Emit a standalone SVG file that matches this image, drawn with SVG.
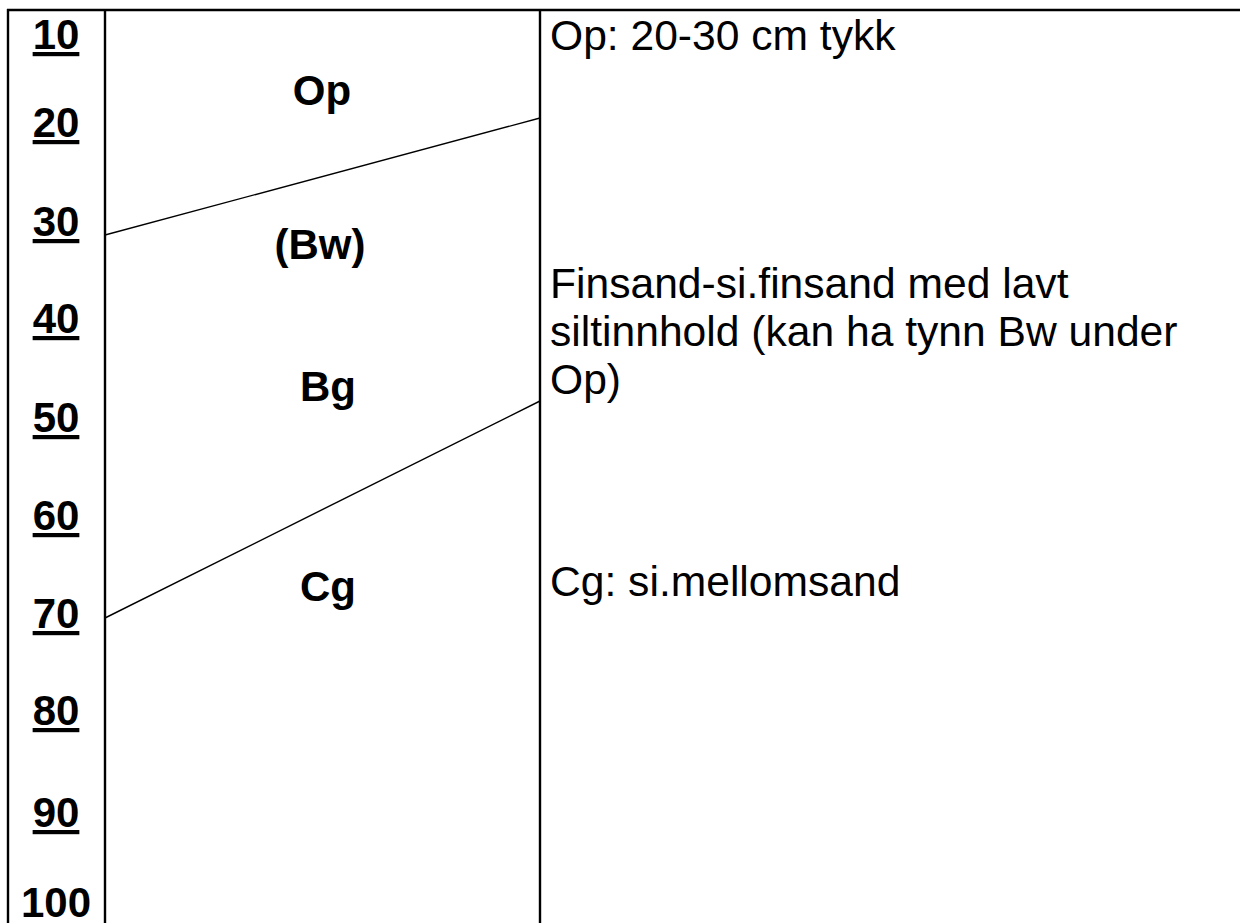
<svg xmlns="http://www.w3.org/2000/svg" width="1240" height="923" viewBox="0 0 1240 923">
<style>
.frame{stroke:#000;stroke-width:2.4;fill:none}
.hz{stroke:#000;stroke-width:1.4;fill:none}
.depth{font-family:"Liberation Sans",Arial,sans-serif;font-size:42px;font-weight:bold;text-anchor:middle;text-decoration:underline;fill:#000}
.hor{font-family:"Liberation Sans",Arial,sans-serif;font-size:42px;font-weight:bold;text-anchor:middle;fill:#000}
.desc{font-family:"Liberation Sans",Arial,sans-serif;font-size:42.6px;fill:#000}
</style>
<rect width="1240" height="923" fill="#fff"/>
<g id="frame">
<line class="frame" x1="7" y1="10" x2="1240" y2="10"/>
<line class="frame" x1="8" y1="9" x2="8" y2="923"/>
<line class="frame" x1="105" y1="9" x2="105" y2="923"/>
<line class="frame" x1="540" y1="9" x2="540" y2="923"/>
</g>
<g id="depth-scale">
<text class="depth" x="56" y="49">10</text>
<text class="depth" x="56" y="137">20</text>
<text class="depth" x="56" y="236">30</text>
<text class="depth" x="56" y="333">40</text>
<text class="depth" x="56" y="432">50</text>
<text class="depth" x="56" y="530">60</text>
<text class="depth" x="56" y="628">70</text>
<text class="depth" x="56" y="725">80</text>
<text class="depth" x="56" y="827">90</text>
<text class="hor" x="56" y="917">100</text>
</g>
<g id="connectors">
<line class="hz" x1="105" y1="235" x2="540" y2="118"/>
<line class="hz" x1="105" y1="618" x2="540" y2="401"/>
</g>
<g id="horizon-Op"><text class="hor" x="322" y="105">Op</text></g>
<g id="horizon-Bw"><text class="hor" x="320" y="259">(Bw)</text></g>
<g id="horizon-Bg"><text class="hor" x="328" y="401">Bg</text></g>
<g id="horizon-Cg"><text class="hor" x="328" y="601">Cg</text></g>
<g id="desc-Op"><text class="desc" x="550" y="50">Op: 20-30 cm tykk</text></g>
<g id="desc-B">
<text class="desc" x="550" y="298">Finsand-si.finsand med lavt</text>
<text class="desc" x="550" y="346">siltinnhold (kan ha tynn Bw under</text>
<text class="desc" x="550" y="394">Op)</text>
</g>
<g id="desc-Cg"><text class="desc" x="550" y="596">Cg: si.mellomsand</text></g>
</svg>
